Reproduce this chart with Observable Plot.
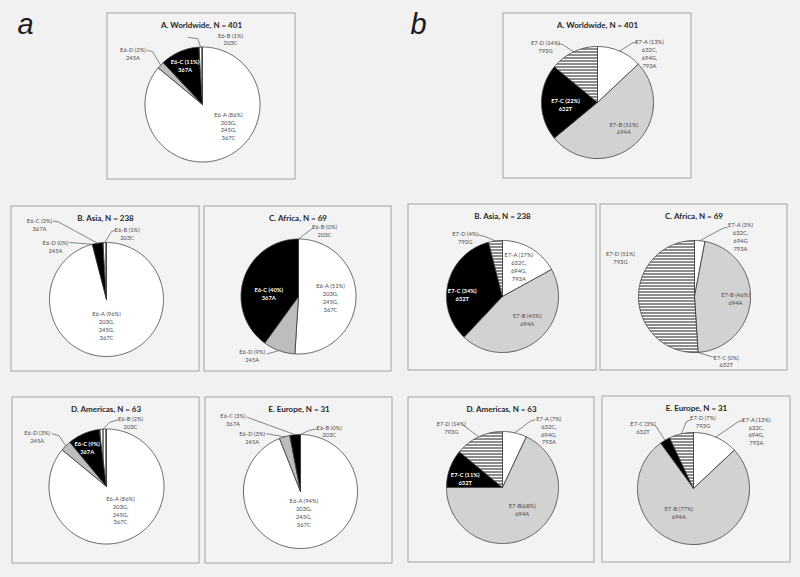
<!DOCTYPE html>
<html>
<head>
<meta charset="utf-8">
<script src="https://cdn.jsdelivr.net/npm/d3@7"></script>
<script src="https://cdn.jsdelivr.net/npm/@observablehq/plot@0.6"></script>
<style>
  html, body { margin: 0; padding: 0; background: #f1f1f1; }
  #chart { width: 800px; height: 577px; }
</style>
</head>
<body>
<svg width="0" height="0" style="position:absolute">
  <defs>
    <pattern id="vstripe" patternUnits="userSpaceOnUse" width="3" height="3">
      <rect width="3" height="3" fill="#ffffff"></rect>
      <rect x="0" y="0" width="1" height="3" fill="#000000"></rect>
    </pattern>
    <pattern id="hstripe" patternUnits="userSpaceOnUse" width="3" height="3">
      <rect width="3" height="3" fill="#ffffff"></rect>
      <rect x="0" y="0" width="3" height="1" fill="#1a1a1a"></rect>
    </pattern>
  </defs>
</svg>
<div id="chart"></div>
<script>
// ---------------- DATA ----------------
const regions = ["A. Worldwide", "B. Asia", "C. Africa", "D. Americas", "E. Europe"];
const sampleSizes = [401, 238, 69, 63, 31];

const e6Types = ["E6-A", "E6-B", "E6-C", "E6-D"];
const e6Variants = ["203G,\n245G,\n367C", "203C", "367A", "245A"];
const e6A = [86, 96, 51, 86, 94];
const e6B = [1, 1, 0, 2, 0];
const e6C = [11, 3, 40, 9, 3];
const e6D = [2, 0, 9, 3, 3];

const e7Types = ["E7-A", "E7-B", "E7-C", "E7-D"];
const e7Variants = ["632C,\n694G,\n793A", "694A", "632T", "793G"];
const e7A = [13, 17, 3, 7, 13];
const e7B = [51, 45, 46, 68, 77];
const e7C = [22, 34, 0, 11, 3];
const e7D = [14, 4, 51, 14, 7];

// ---------------- LAYOUT / STYLE ----------------
const W = 800, H = 577;
const e6Order = [0, 3, 2, 1];        // clockwise from 12 o'clock: A, D, C, B
const e7Order = [0, 1, 2, 3];        // clockwise: A, B, C, D
const e6Fills = ["#ffffff", "url(#vstripe)", "#000000", "#bdbdbd"];
const e7Fills = ["#ffffff", "#d2d2d2", "#000000", "url(#hstripe)"];

const layoutA = [
  {box: [107, 13, 295, 179], c: [202, 104], r: 57.5},
  {box: [11, 206, 199, 371], c: [106, 299], r: 57},
  {box: [204, 206, 391, 371], c: [298, 296], r: 57.5},
  {box: [12, 397, 199, 563], c: [106, 486], r: 57.5},
  {box: [205, 397, 392, 563], c: [300, 491], r: 57}
];
const layoutB = [
  {box: [503, 13, 691, 178], c: [597, 102], r: 56},
  {box: [408, 204, 596, 370], c: [502, 296], r: 56},
  {box: [600, 204, 787, 370], c: [694, 296], r: 56},
  {box: [408, 397, 594, 562], c: [502, 487], r: 56},
  {box: [602, 396, 790, 562], c: [693, 488], r: 56}
];
// label placement per type (A,B,C,D): [offset of text block centre, leader start, leader elbow]
const labelsA = [
  [[26, 21.5], null, null], [[28, -65.5], [-14, -67], [-5, -66]], [[-17.5, -39.3], null, null], [[-69.5, -51], [-55, -54], [-50, -53]],
  [[0, 26], null, null], [[20.7, -65.7], [8.5, -69], [5, -68]], [[-67, -75], [-53.3, -78.3], [-49, -78]], [[-51, -53], [-36.7, -57], null],
  [[32, 1], null, null], [[26, -66], [14.7, -68.7], null], [[-29.7, -3], null, null], [[-46.3, 59.3], [-31.3, 57.3], null],
  [[14, 23.7], null, null], [[24, -64], [12.3, -66.7], [3.3, -64.3]], [[-19.3, -39], null, null], [[-69.3, -50], [-54.3, -52.7], [-47.7, -51]],
  [[3.3, 21], null, null], [[28.7, -60.5], [16.7, -62.7], [8.3, -61]], [[-67.5, -72], [-53.3, -74.3], [-50, -73]], [[-48.3, -54.3], [-34, -57.7], null]
];
const labelsB = [
  [[52, -49], [39, -60.3], [35, -59.5]], [[26.3, 25.5], null, null], [[-32, 2], null, null], [[-52, -55.7], [-38.7, -58.7], [-35, -58]],
  [[16.3, -30], null, null], [[24.7, 23], null, null], [[-40.3, -2.3], null, null], [[-37.3, -59], [-24.3, -61.7], [-17.7, -60]],
  [[46, -60], [32.7, -69.3], [28, -68]], [[41, 2.3], null, null], [[31.7, 64.5], [18.7, 60.7], null], [[-74, -39.3], null, null],
  [[46.3, -57.3], [32.3, -67.7], [28, -66.5]], [[19.7, 22], null, null], [[-37.3, -8.7], null, null], [[-51.2, -60], [-38.7, -62], null],
  [[62.8, -57.5], [49.7, -68], [45, -67]], [[-14.7, 23.7], null, null], [[-50.5, -61], [-38, -63], null], [[9.5, -66.7], [-3, -68.5], [-7, -67]]
];
// label texts that differ from the default form in the original
const labelOverrides = {"b-3-1": "E7-B(68%)\n694A", "b-2-0": "E7-A (3%)\n632C,\n694G\n793A"};

// ---------------- BUILD ----------------
const wedges = [], labels = [], leaders = [], titles = [], boxes = [];

function buildPanel(key, types, variants, series, order, fills, layout, labLayout) {
  regions.forEach((region, i) => {
    const L = layout[i];
    const [cx, cy] = L.c, r = L.r;
    boxes.push({x1: L.box[0], y1: L.box[1], x2: L.box[2], y2: L.box[3]});
    titles.push({x: (L.box[0] + L.box[2]) / 2, y: L.box[1] + 11.5, text: `${region}, N = ${sampleSizes[i]}`});
    const total = d3.sum(series, s => s[i]);
    let acc = 0;
    const mid = [];
    for (const k of order) {
      const v = series[k][i];
      const a0 = acc / total * 2 * Math.PI, a1 = (acc + v) / total * 2 * Math.PI;
      mid[k] = (a0 + a1) / 2;
      acc += v;
      if (v <= 0) continue;
      const id = `${key}-${i}-${k}`;
      const n = Math.max(2, Math.ceil(v * 3.6));
      wedges.push({x: cx, y: cy, id, fill: fills[k]});
      for (let s = 0; s <= n; s++) {
        const t = a0 + (a1 - a0) * s / n;
        wedges.push({x: cx + r * Math.sin(t), y: cy - r * Math.cos(t), id, fill: fills[k]});
      }
      wedges.push({x: cx, y: cy, id, fill: fills[k]});
    }
    types.forEach((t, k) => {
      const [pos, start, elbow] = labLayout[i * 4 + k];
      const id = `${key}-${i}-${k}`;
      const text = labelOverrides[id] ?? `${t} (${series[k][i]}%)\n${variants[k]}`;
      const inside = !start;
      const white = inside && fills[k] === "#000000" && k === 2 && !(key === "b" && i === 2);
      labels.push({x: cx + pos[0], y: cy + pos[1], text, color: white ? "#ffffff" : "#4d4d4d", bold: white});
      if (start) {
        const pts = [start];
        if (elbow) pts.push(elbow);
        pts.forEach(p => leaders.push({x: cx + p[0], y: cy + p[1], id}));
        leaders.push({x: cx + r * Math.sin(mid[k]), y: cy - r * Math.cos(mid[k]), id});
      }
    });
  });
}

buildPanel("a", e6Types, e6Variants, [e6A, e6B, e6C, e6D], e6Order, e6Fills, layoutA, labelsA);
buildPanel("b", e7Types, e7Variants, [e7A, e7B, e7C, e7D], e7Order, e7Fills, layoutB, labelsB);

const panelLetters = [{t: "a", x: 17, y: 24}, {t: "b", x: 410, y: 24}];
const fillKeys = [...new Set(wedges.map(d => d.fill))];

const chart = Plot.plot({
  width: W,
  height: H,
  margin: 0,
  x: {domain: [0, W], range: [0, W], axis: null},
  y: {domain: [0, H], range: [0, H], axis: null},
  style: {background: "transparent", fontFamily: "Lato, 'Open Sans', sans-serif"},
  marks: [
    Plot.rect(boxes, {x1: "x1", y1: "y1", x2: "x2", y2: "y2", fill: "#f3f3f3", stroke: "#a3a3a3", strokeWidth: 1}),
    ...fillKeys.map(f => Plot.line(wedges.filter(d => d.fill === f), {
      x: "x", y: "y", z: "id", fill: f, stroke: "#3a3a3a", strokeWidth: 0.8, strokeLinejoin: "round", curve: "linear"
    })),
    Plot.line(leaders, {x: "x", y: "y", z: "id", stroke: "#555555", strokeWidth: 0.7, fill: "none"}),
    Plot.text(labels.filter(d => !d.bold), {x: "x", y: "y", text: "text", fill: "color", fontSize: 5.8, lineHeight: 1.35, lineAnchor: "middle", textAnchor: "middle"}),
    Plot.text(labels.filter(d => d.bold), {x: "x", y: "y", text: "text", fill: "color", fontSize: 5.8, fontWeight: "bold", lineHeight: 1.35, lineAnchor: "middle", textAnchor: "middle"}),
    Plot.text(titles, {x: "x", y: "y", text: "text", fill: "#262626", fontSize: 8, fontWeight: "bold", lineAnchor: "middle", textAnchor: "middle"}),
    Plot.text(panelLetters, {x: "x", y: "y", text: "t", fontSize: 29, fontStyle: "italic", fill: "#1a1a1a", textAnchor: "start", lineAnchor: "middle", fontFamily: "'Liberation Sans', Arial, sans-serif"})
  ]
});
document.getElementById("chart").appendChild(chart);
</script>
</body>
</html>
